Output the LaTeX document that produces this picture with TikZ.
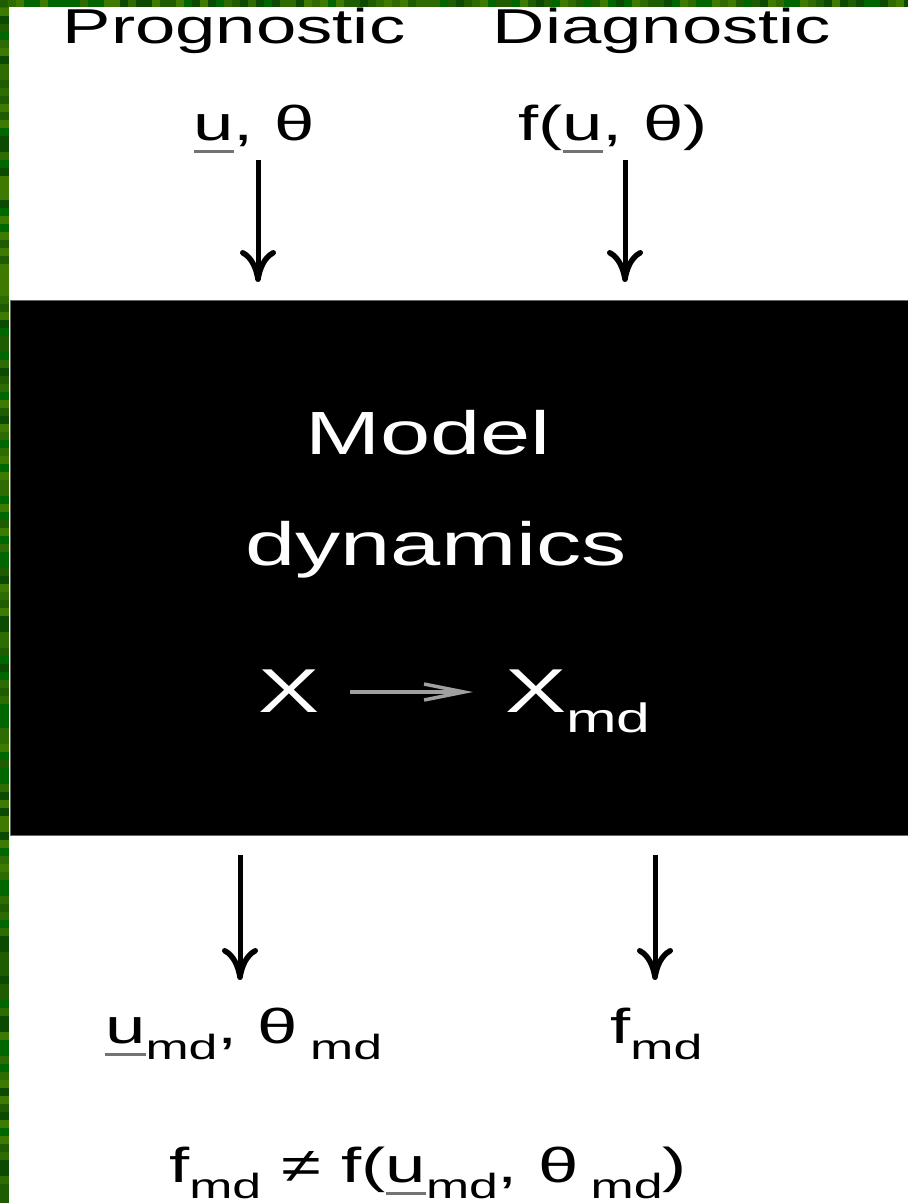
\documentclass[tikz,border=0pt]{standalone}
\usepackage{fontspec}
\setmainfont{Liberation Sans}
\usepackage{graphicx}
\usetikzlibrary{arrows.meta}

\definecolor{g1}{HTML}{1F5C00}
\definecolor{g2}{HTML}{2E6B00}
\definecolor{g3}{HTML}{006600}
\definecolor{g4}{HTML}{3F7A00}
\definecolor{g5}{HTML}{0B4A00}
\definecolor{innerarrow}{RGB}{160,160,160}

% horizontally stretched lettering
\newcommand\wide[1]{\scalebox{1.48}[1]{#1}}
% underlined vector symbol
\newsavebox\ubox
\newcommand\ubar[1]{\sbox\ubox{#1}\vtop{\offinterlineskip\copy\ubox\kern0.2em\hbox{\color{black!55}\rule{\wd\ubox}{0.05em}}}}
% lowered "md" subscript: size, drop
\newcommand\subs[2]{\raisebox{-#2}{\fontsize{#1}{#1}\selectfont md}}

\begin{document}
\begin{tikzpicture}[x=1pt,y=-1pt,
  lbl/.style={inner sep=0pt, anchor=base},
  arr/.style={line width=5pt, -{To[length=32pt,width=36pt,line width=5.5pt]}},
  innerarr/.style={draw=innerarrow, line width=3.5pt, -{Straight Barb[length=40pt,width=16pt,line width=3.5pt]}}]

\useasboundingbox (0,0) rectangle (908,1203);
\fill[white] (0,0) rectangle (908,1203);

% mottled green frame along the left and top edges
\fill[g2] (0,0) rectangle (9,1203);
\fill[g2] (0,0) rectangle (908,7);
\pgfmathsetseed{11}
\foreach \j in {0,...,150}{
  \pgfmathsetmacro\k{int(random(1,5))}
  \fill[g\k] (0,\j*8) rectangle (9,\j*8+8);
}
\foreach \i in {0,...,113}{
  \pgfmathsetmacro\k{int(random(1,5))}
  \fill[g\k] (\i*8,0) rectangle (\i*8+8,7);
}

% the model box
\node[fill=black, draw=black!60, line width=1pt, inner sep=0pt, minimum width=898pt,
  minimum height=535pt, anchor=north west] (box) at (10,300) {};

% column headings
\node[lbl] (prog) at (234,43) {\wide{\fontsize{49}{49}\selectfont Prognostic}};
\node[lbl] (diag) at (662,43) {\wide{\fontsize{49}{49}\selectfont Diagnostic}};

% inputs
\node[lbl] (pin) at (254,140) {\wide{\fontsize{49}{49}\selectfont \ubar{u}, θ}};
\node[lbl] (din) at (613,140) {\wide{\fontsize{49}{49}\selectfont f(\ubar{u}, θ)}};

\coordinate (pa1) at (258,160);
\coordinate (pa2) at (258,282);
\coordinate (da1) at (625,160);
\coordinate (da2) at (625,282);
\draw[arr] (pa1) -- (pa2);
\draw[arr] (da1) -- (da2);

% box contents
\node[lbl, text=white] (model) at (428,454) {\wide{\fontsize{61}{61}\selectfont Model}};
\node[lbl, text=white] (dyn) at (436,565) {\wide{\fontsize{61}{61}\selectfont dynamics}};
\node[lbl, text=white] (x0) at (289,712) {\wide{\fontsize{62}{62}\selectfont X}};
\node[lbl, text=white, anchor=base west] (x1) at (505,712) {\wide{\fontsize{62}{62}\selectfont X\subs{41}{20pt}}};
\coordinate (ia1) at (350,692);
\coordinate (ia2) at (473,692);
\draw[innerarr] (ia1) -- (ia2);

% outputs
\coordinate (pb1) at (240,855);
\coordinate (pb2) at (240,980);
\coordinate (db1) at (655,855);
\coordinate (db2) at (655,980);
\draw[arr] (pb1) -- (pb2);
\draw[arr] (db1) -- (db2);

\node[lbl, anchor=base west] (pout) at (105,1043) {\wide{\fontsize{49}{49}\selectfont \ubar{u}\subs{35}{16pt}, θ\,\subs{35}{16pt}}};
\node[lbl, anchor=base west] (dout) at (610,1043) {\wide{\fontsize{49}{49}\selectfont f\subs{35}{16pt}}};

\node[lbl] (neq) at (428,1182) {\wide{\fontsize{49}{49}\selectfont f\subs{35}{16pt} ≠ f(\ubar{u}\subs{35}{16pt}, θ\,\subs{35}{16pt})}};

\end{tikzpicture}
\end{document}
